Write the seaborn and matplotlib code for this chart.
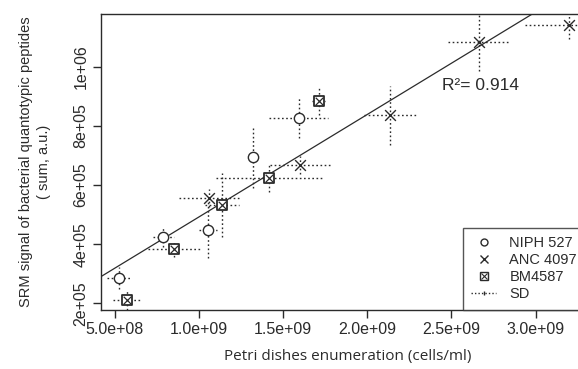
import numpy as np
import pandas as pd
import matplotlib.pyplot as plt
import seaborn as sns
from matplotlib.lines import Line2D
from matplotlib.legend_handler import HandlerTuple

# values
niph_x = [5.26e8, 7.88e8, 1.055e9, 1.323e9, 1.591e9]
niph_y = [2.84e5, 4.25e5, 4.48e5, 6.93e5, 8.28e5]
niph_xerr = [0.74e8, 0.63e8, 0.54e8, 0.3e8, 1.74e8]
niph_yerr = [0.37e5, 0.34e5, 0.95e5, 1.05e5, 0.68e5]

anc_x = [1.061e9, 1.601e9, 2.133e9, 2.663e9, 3.198e9]
anc_y = [5.55e5, 6.67e5, 8.36e5, 1.084e6, 1.14e6]
anc_xerr = [1.79e8, 1.79e8, 1.54e8, 1.82e8, 2.6e8]
anc_yerr = [0.3e5, 0.3e5, 1.0e5, 1.0e5, 0.45e5]

bm_x = [5.7e8, 8.51e8, 1.135e9, 1.418e9, 1.71e9]
bm_y = [2.11e5, 3.82e5, 5.32e5, 6.24e5, 8.85e5]
bm_xerr = [0.84e8, 1.55e8, 1.0e8, 3.17e8, 0.4e8]
bm_yerr = [0.35e5, 0.26e5, 1.07e5, 0.47e5, 0.47e5]

fit_slope = 3.465e-4
fit_intercept = 1.455e5
r2_text = "R²= 0.914"

strains = ["NIPH 527", "ANC 4097", "BM4587"]

df = pd.DataFrame({
    "x": niph_x + anc_x + bm_x,
    "y": niph_y + anc_y + bm_y,
    "xerr": niph_xerr + anc_xerr + bm_xerr,
    "yerr": niph_yerr + anc_yerr + bm_yerr,
    "strain": [strains[0]] * 5 + [strains[1]] * 5 + [strains[2]] * 5,
})

sns.set_style("white")
plt.rcParams['font.family'] = ['Liberation Sans', 'DejaVu Sans']
ink = "#2b2b2b"

fig = plt.figure(figsize=(5.78, 3.69), dpi=100)
ax = fig.add_axes([0.1747, 0.1599, 0.8547, 0.802])

# dotted SD bars
eb = ax.errorbar(df["x"], df["y"], xerr=df["xerr"], yerr=df["yerr"], fmt="none",
                 ecolor=ink, elinewidth=1.0, capsize=0)
for lc in eb[2]:
    lc.set_linestyle((0, (1.2, 1.8)))

# regression line
ax.axline((0, fit_intercept), slope=fit_slope, color=ink, lw=0.9)

# markers
sub = df[df["strain"] == strains[0]]
sns.scatterplot(data=sub, x="x", y="y", marker="o", s=55, facecolor="white",
                edgecolor=ink, linewidth=1.0, ax=ax, zorder=4)
sub = df[df["strain"] == strains[1]]
sns.scatterplot(data=sub, x="x", y="y", marker="x", s=60, color=ink,
                linewidth=1.0, ax=ax, zorder=4)
sub = df[df["strain"] == strains[2]]
sns.scatterplot(data=sub, x="x", y="y", marker="s", s=60, facecolor="white",
                edgecolor=ink, linewidth=1.3, ax=ax, zorder=4)
sns.scatterplot(data=sub, x="x", y="y", marker="x", s=30, color=ink,
                linewidth=0.9, ax=ax, zorder=5)

ax.set_xlim(4.17e8, 3.353e9)
ax.set_ylim(1.77e5, 1.178e6)
ax.set_xticks([5e8, 1e9, 1.5e9, 2e9, 2.5e9, 3e9])
ax.set_xticklabels(["5.0e+08", "1.0e+09", "1.5e+09", "2.0e+09", "2.5e+09", "3.0e+09"])
ax.set_yticks([2e5, 4e5, 6e5, 8e5, 1e6])
ax.set_yticklabels(["2e+05", "4e+05", "6e+05", "8e+05", "1e+06"], rotation=90, va="center")
ax.tick_params(axis="both", direction="out", length=6, width=1, color=ink,
               labelsize=11.5, labelcolor=ink, pad=3, left=True, bottom=True)
for s in ax.spines.values():
    s.set_color(ink)
    s.set_linewidth(1.0)

ax.set_xlabel("Petri dishes enumeration (cells/ml)", fontsize=11, color=ink,
              family=["Open Sans", "DejaVu Sans"], labelpad=8)
ax.set_ylabel("SRM signal of bacterial quantotypic peptides\n( sum, a.u.)", fontsize=10.5,
              color=ink, linespacing=1.35, labelpad=16)

ax.text(0.69, 0.745, r2_text, transform=ax.transAxes, fontsize=12.5, color=ink)

handles = [
    Line2D([], [], ls="none", marker="o", mfc="white", mec=ink, ms=5, mew=1),
    Line2D([], [], ls="none", marker="x", color=ink, ms=6, mew=1),
    (Line2D([], [], ls="none", marker="s", mfc="white", mec=ink, ms=6, mew=1),
     Line2D([], [], ls="none", marker="x", color=ink, ms=4, mew=0.8)),
    Line2D([], [], ls=(0, (1, 1.5)), color=ink, lw=1, marker="|", ms=3),
]
leg = ax.legend(handles, strains + ["SD"], loc="lower left", bbox_to_anchor=(0.732, 0),
                borderaxespad=0, fontsize=10.5, handlelength=1.7, handletextpad=0.9,
                labelspacing=0.2, borderpad=0.6, fancybox=False, frameon=True,
                handler_map={tuple: HandlerTuple(ndivide=1, pad=0)})
leg.get_frame().set_edgecolor(ink)
leg.get_frame().set_linewidth(1.0)
for t in leg.get_texts():
    t.set_color(ink)

fig.savefig("out.png", dpi=100)
